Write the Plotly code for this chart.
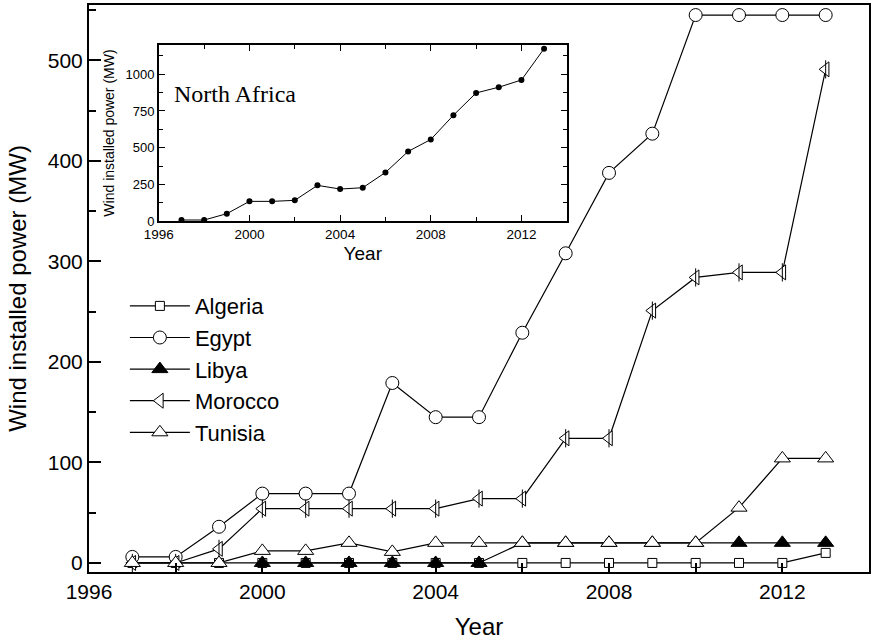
import plotly.graph_objects as go

years = list(range(1997, 2014))
algeria = [0, 0, 0, 0, 0, 0, 0, 0, 0, 0, 0, 0, 0, 0, 0, 0, 10]
egypt = [6, 6, 36, 69, 69, 69, 179, 145, 145, 229, 308, 388, 427, 545, 545, 545, 545]
libya_years = list(range(2000, 2014))
libya = [0, 0, 0, 0, 0, 0, 20, 20, 20, 20, 20, 20, 20, 20]
morocco = [0, 0, 14, 54, 54, 54, 54, 54, 64, 64, 124, 124, 251, 284, 289, 289, 491]
tunisia = [0, 0, 0, 12, 12, 20, 11, 20, 20, 20, 20, 20, 20, 20, 55, 104, 104]
north_africa = [7, 7, 50, 134, 134, 141, 243, 218, 227, 331, 474, 556, 721, 873, 912, 961, 1175]

FONT = "Liberation Sans, Arial, sans-serif"
BL = dict(color="black", width=1.2)

fig = go.Figure()
fig.add_trace(go.Scatter(x=years, y=algeria, name="Algeria", mode="lines+markers", line=BL,
                         marker=dict(symbol="square", size=9, color="white", line=dict(color="black", width=1))))
fig.add_trace(go.Scatter(x=years, y=egypt, name="Egypt", mode="lines+markers", line=BL,
                         marker=dict(symbol="circle", size=13, color="white", line=dict(color="black", width=1))))
fig.add_trace(go.Scatter(x=libya_years, y=libya, name="Libya", mode="lines+markers", line=BL,
                         marker=dict(symbol="triangle-up", size=14, color="black", line=dict(color="black", width=1))))
fig.add_trace(go.Scatter(x=years, y=morocco, name="Morocco", mode="lines+markers", line=BL, legendgroup="m",
                         marker=dict(symbol="triangle-left", size=13, color="white", line=dict(color="black", width=1))))
fig.add_trace(go.Scatter(x=years, y=morocco, name="Morocco", mode="markers", legendgroup="m", showlegend=False,
                         marker=dict(symbol="line-ns", size=13, color="black", line=dict(color="black", width=1))))
fig.add_trace(go.Scatter(x=years, y=tunisia, name="Tunisia", mode="lines+markers", line=BL,
                         marker=dict(symbol="triangle-up", size=14, color="white", line=dict(color="black", width=1))))

fig.add_trace(go.Scatter(x=years, y=north_africa, xaxis="x2", yaxis="y2", mode="lines+markers", showlegend=False,
                         line=dict(color="black", width=1), marker=dict(size=6, color="black")))

axis_common = dict(showgrid=False, zeroline=False, linecolor="black", ticks="inside",
                   tickcolor="black", color="black")

fig.update_layout(
    width=874, height=640,
    margin=dict(l=89, r=3, t=5, b=68),
    paper_bgcolor="white", plot_bgcolor="white",
    font=dict(family=FONT, color="black"),
    xaxis=dict(**axis_common, range=[1996, 2014], dtick=4, tick0=1996, linewidth=2, mirror=True,
               ticklen=9, tickwidth=2, minor=dict(dtick=2, ticks="inside", ticklen=9, tickcolor="black", tickwidth=2),
               tickfont=dict(size=21), title=dict(text="Year", font=dict(size=24), standoff=16)),
    yaxis=dict(**axis_common, range=[-9, 555], dtick=100, tick0=0, linewidth=2, mirror=True,
               ticklen=12, tickwidth=2, minor=dict(dtick=50, ticks="inside", ticklen=7, tickcolor="black", tickwidth=2),
               tickfont=dict(size=21), title=dict(text="Wind installed power (MW)", font=dict(size=24), standoff=14)),
    xaxis2=dict(**axis_common, domain=[0.0895, 0.6125], anchor="y2", range=[1996, 2014], dtick=4, tick0=1996,
                linewidth=1.5, mirror="allticks", ticklen=6, tickwidth=1,
                minor=dict(dtick=2, ticks="inside", ticklen=4, tickcolor="black"),
                tickfont=dict(size=13.5), title=dict(text="Year", font=dict(size=19), standoff=6)),
    yaxis2=dict(**axis_common, domain=[0.619, 0.9295], anchor="x2", range=[0, 1200], dtick=250, tick0=0,
                linewidth=1.5, mirror="allticks", ticklen=6, tickwidth=1,
                minor=dict(dtick=125, ticks="inside", ticklen=4, tickcolor="black"),
                tickfont=dict(size=13), title=dict(text="Wind installed power (MW)", font=dict(size=14), standoff=8)),
    legend=dict(x=0.046, y=0.506, xanchor="left", yanchor="top", bgcolor="rgba(0,0,0,0)",
                font=dict(size=22), itemwidth=60, tracegroupgap=0),
    annotations=[dict(text="North Africa", x=0.106, y=0.843, xref="paper", yref="paper",
                      xanchor="left", yanchor="middle", showarrow=False,
                      font=dict(family="Liberation Serif, Times New Roman, serif", size=24, color="black"))],
)

fig.write_html("out.html")
